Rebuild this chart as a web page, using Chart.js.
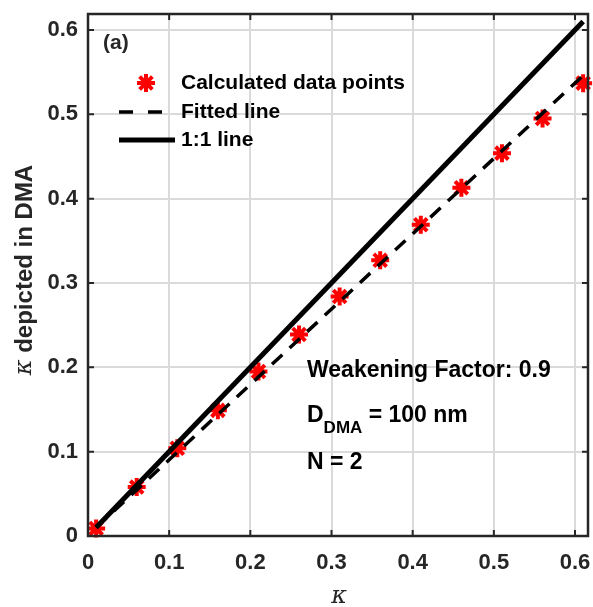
<!DOCTYPE html>
<html>
<head>
<meta charset="utf-8">
<script src="https://cdn.jsdelivr.net/npm/chart.js@4.4.0/dist/chart.umd.min.js"></script>
<style>
  html, body { margin: 0; padding: 0; background: #fff; }
  #wrap { width: 593px; height: 607px; }
</style>
</head>
<body>
<div id="wrap"><canvas id="kappaChart" width="593" height="607"></canvas></div>
<script>
// calculated points
const kappa = [0.01, 0.06, 0.11, 0.16, 0.21, 0.26, 0.31, 0.36, 0.41, 0.46, 0.51, 0.56, 0.61];
const kappaDMA = [0.009, 0.058, 0.104, 0.149, 0.195, 0.239, 0.284, 0.327, 0.369, 0.413, 0.454, 0.495, 0.537];
// fitted line and 1:1 line end points
const fitX = [0.01, 0.61];
const fitY = [0.010, 0.546];
const oneX = [0.01, 0.61];
const oneY = [0.01, 0.61];
const tickVals = [0, 0.1, 0.2, 0.3, 0.4, 0.5, 0.6];
const legendLabels = ["Calculated data points", "Fitted line", "1:1 line"];
const panelLabel = "(a)";
const noteWF = "Weakening Factor: 0.9";
const noteD = ["D", "DMA", " = 100 nm"];
const noteN = "N = 2";
const xTitle = "κ";
const yTitle = ["κ", " depicted in DMA"];

const INK = "#262626";
const SANS = "'Liberation Sans', Arial, sans-serif";
const SERIF = "italic 24px 'DejaVu Serif', serif";

function pts(xs, ys) { return xs.map((x, i) => ({ x: x, y: ys[i] })); }

const decor = {
  id: "decor",
  afterDraw(chart) {
    const ctx = chart.ctx;
    const a = chart.chartArea;
    const sx = chart.scales.x, sy = chart.scales.y;
    ctx.save();

    // box + inward ticks
    ctx.strokeStyle = INK;
    ctx.lineWidth = 2.5;
    ctx.strokeRect(a.left, a.top, a.right - a.left, a.bottom - a.top);
    ctx.lineWidth = 2;
    tickVals.forEach(v => {
      const px = sx.getPixelForValue(v);
      const py = sy.getPixelForValue(v);
      ctx.beginPath();
      ctx.moveTo(px, a.bottom); ctx.lineTo(px, a.bottom - 6);
      ctx.moveTo(px, a.top); ctx.lineTo(px, a.top + 6);
      ctx.moveTo(a.left, py); ctx.lineTo(a.left + 6, py);
      ctx.moveTo(a.right, py); ctx.lineTo(a.right - 6, py);
      ctx.stroke();
    });

    ctx.fillStyle = INK;
    ctx.textBaseline = "middle";
    ctx.textAlign = "left";

    // panel label
    ctx.font = "bold 21px " + SANS;
    ctx.fillText(panelLabel, 103, 43);

    // legend
    const ly = [83, 112, 140];
    ctx.strokeStyle = "#ff0000";
    ctx.lineWidth = 4;
    Chart.helpers.drawPoint(ctx, { pointStyle: "star", radius: 9, borderWidth: 4, rotation: 0 }, 146, ly[0]);
    ctx.strokeStyle = "#000";
    ctx.lineWidth = 3.5;
    ctx.setLineDash([14, 15]);
    ctx.beginPath(); ctx.moveTo(119, ly[1]); ctx.lineTo(164, ly[1]); ctx.stroke();
    ctx.setLineDash([]);
    ctx.lineWidth = 5;
    ctx.beginPath(); ctx.moveTo(119, ly[2]); ctx.lineTo(175, ly[2]); ctx.stroke();
    ctx.font = "bold 21px " + SANS;
    ctx.fillStyle = "#000";
    legendLabels.forEach((t, i) => ctx.fillText(t, 181, ly[i]));

    // notes
    ctx.font = "bold 23px " + SANS;
    ctx.fillText(noteWF, 307, 371);
    ctx.fillText(noteD[0], 307, 416);
    let w = ctx.measureText(noteD[0]).width;
    ctx.font = "bold 17px " + SANS;
    ctx.fillText(noteD[1], 307 + w, 428);
    w += ctx.measureText(noteD[1]).width;
    ctx.font = "bold 23px " + SANS;
    ctx.fillText(noteD[2], 307 + w, 416);
    ctx.fillText(noteN, 307, 463);

    // axis titles
    ctx.fillStyle = INK;
    ctx.textAlign = "center";
    ctx.font = SERIF;
    ctx.fillText(xTitle, 339, 597);

    ctx.save();
    ctx.translate(25, 270);
    ctx.rotate(-Math.PI / 2);
    ctx.textAlign = "left";
    ctx.font = SERIF;
    const kw = ctx.measureText(yTitle[0]).width;
    ctx.font = "bold 24px " + SANS;
    const rw = ctx.measureText(yTitle[1]).width;
    const start = -(kw + rw) / 2;
    ctx.font = SERIF;
    ctx.fillText(yTitle[0], start, 0);
    ctx.font = "bold 24px " + SANS;
    ctx.fillText(yTitle[1], start + kw, 0);
    ctx.restore();

    ctx.restore();
  }
};

const fixTicks = s => { s.ticks = tickVals.map(v => ({ value: v })); };
const fmt = v => (v === 0 ? "0" : v.toFixed(1));

new Chart(document.getElementById("kappaChart").getContext("2d"), {
  type: "scatter",
  data: {
    datasets: [
      {
        label: legendLabels[2],
        data: pts(oneX, oneY),
        showLine: true,
        borderColor: "#000",
        borderWidth: 5,
        pointRadius: 0,
        order: 1
      },
      {
        label: legendLabels[1],
        data: pts(fitX, fitY),
        showLine: true,
        borderColor: "#000",
        borderWidth: 3.5,
        borderDash: [14, 10],
        pointRadius: 0,
        order: 2
      },
      {
        label: legendLabels[0],
        data: pts(kappa, kappaDMA),
        showLine: false,
        pointStyle: "star",
        pointRadius: 9,
        pointBorderWidth: 4,
        pointBorderColor: "#ff0000",
        pointBackgroundColor: "#ff0000",
        clip: false,
        order: 3
      }
    ]
  },
  options: {
    responsive: false,
    animation: false,
    layout: { autoPadding: false, padding: { top: 14, right: 5, left: 0, bottom: 0 } },
    plugins: { legend: { display: false }, tooltip: { enabled: false } },
    scales: {
      x: {
        type: "linear",
        min: 0,
        max: 0.616,
        afterBuildTicks: fixTicks,
        afterFit: s => { s.height = 71; s.paddingLeft = 0; s.paddingRight = 0; },
        grid: { color: "#dadada", lineWidth: 2, drawTicks: false },
        border: { display: false },
        ticks: { callback: fmt, padding: 14, color: INK, font: { family: SANS, size: 22, weight: "bold" } }
      },
      y: {
        type: "linear",
        min: 0,
        max: 0.619,
        afterBuildTicks: fixTicks,
        afterFit: s => { s.width = 88; s.paddingTop = 0; s.paddingBottom = 0; },
        grid: { color: "#dadada", lineWidth: 2, drawTicks: false },
        border: { display: false },
        ticks: { callback: fmt, padding: 10, color: INK, font: { family: SANS, size: 22, weight: "bold" } }
      }
    }
  },
  plugins: [decor]
});
</script>
</body>
</html>
